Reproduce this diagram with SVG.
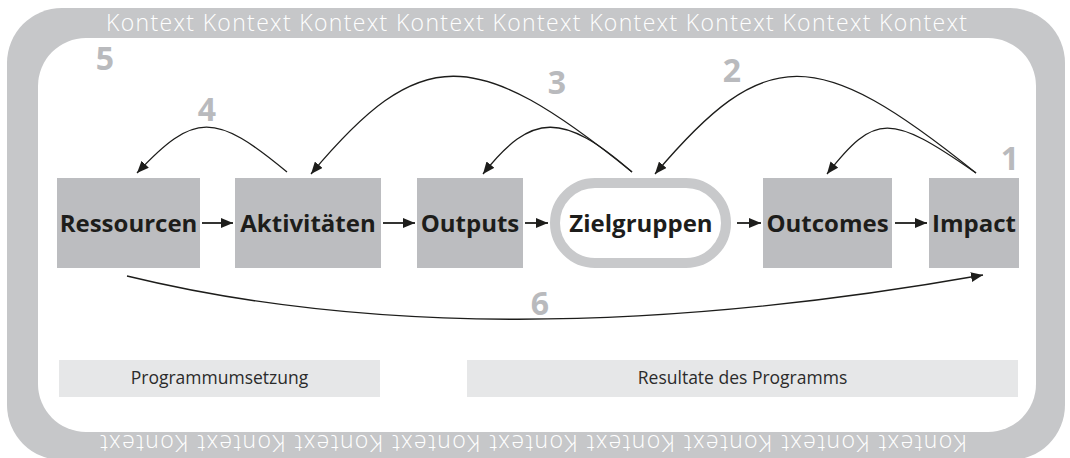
<svg xmlns="http://www.w3.org/2000/svg" width="1070" height="458" viewBox="0 0 1070 458">
<defs>
<style>
.box{fill:#bcbdc0}
.lbl{font-family:"Open Sans","Noto Sans","Liberation Sans",sans-serif;font-weight:700;font-size:24px;fill:#1d1d1b;text-anchor:middle}
.num{font-family:"Open Sans","Noto Sans","Liberation Sans",sans-serif;font-weight:700;font-size:32px;fill:#b9babd;text-anchor:middle}
.ctx{font-family:"Open Sans","Noto Sans","Liberation Sans",sans-serif;font-weight:300;font-size:23px;fill:#ffffff;text-anchor:middle}
.bar{fill:#e6e7e8}
.bartxt{font-family:"Open Sans","Noto Sans","Liberation Sans",sans-serif;font-weight:400;font-size:17.5px;fill:#2b2b2b;text-anchor:middle}
.arc{fill:none;stroke:#1d1d1b;stroke-width:1.3}
.hl{fill:none;stroke:#1d1d1b;stroke-width:1.8}
</style>
<marker id="ah" viewBox="0 0 12 10" refX="12" refY="5" markerWidth="12" markerHeight="10" orient="auto" markerUnits="userSpaceOnUse">
<path d="M0,0 L12,5 L0,10 z" fill="#1d1d1b"/>
</marker>
</defs>

<g id="frame">
<rect x="7" y="8" width="1058" height="452" rx="55" fill="#c6c7c9"/>
<rect x="38" y="38" width="998" height="394" rx="48" fill="#ffffff"/>
<text class="ctx" x="536.5" y="31" textLength="861" lengthAdjust="spacing">Kontext Kontext Kontext Kontext Kontext Kontext Kontext Kontext Kontext</text>
<text class="ctx" x="0" y="0" transform="translate(533.5,435) rotate(180)" textLength="867" lengthAdjust="spacing">Kontext Kontext Kontext Kontext Kontext Kontext Kontext Kontext Kontext</text>
</g>

<g id="numbers">
<text class="num" x="105" y="70">5</text>
<text class="num" x="207" y="121">4</text>
<text class="num" x="557" y="94">3</text>
<text class="num" x="732" y="82">2</text>
<text class="num" x="1010" y="170">1</text>
<text class="num" x="540" y="315">6</text>
</g>

<g id="node-ressourcen">
<rect class="box" x="57" y="178" width="143" height="90"/>
<text class="lbl" x="128.5" y="232">Ressourcen</text>
</g>
<g id="node-aktivitaeten">
<rect class="box" x="235" y="178" width="146" height="90"/>
<text class="lbl" x="308" y="232">Aktivitäten</text>
</g>
<g id="node-outputs">
<rect class="box" x="417" y="178" width="106" height="90"/>
<text class="lbl" x="470" y="232">Outputs</text>
</g>
<g id="node-zielgruppen">
<rect x="555" y="183" width="171" height="80" rx="40" fill="#ffffff" stroke="#c8c9cb" stroke-width="10"/>
<text class="lbl" x="641" y="232">Zielgruppen</text>
</g>
<g id="node-outcomes">
<rect class="box" x="763" y="178" width="129" height="90"/>
<text class="lbl" x="827.5" y="232">Outcomes</text>
</g>
<g id="node-impact">
<rect class="box" x="929" y="178" width="90" height="90"/>
<text class="lbl" x="974" y="232">Impact</text>
</g>

<g id="connectors">
<line class="hl" x1="202" y1="223" x2="233" y2="223" marker-end="url(#ah)"/>
<line class="hl" x1="383" y1="223" x2="415" y2="223" marker-end="url(#ah)"/>
<line class="hl" x1="525" y1="223" x2="548" y2="223" marker-end="url(#ah)"/>
<line class="hl" x1="737" y1="223" x2="761" y2="223" marker-end="url(#ah)"/>
<line class="hl" x1="895" y1="223" x2="927" y2="223" marker-end="url(#ah)"/>
<path class="arc" d="M287,172 C215,112 194,112 137,173" marker-end="url(#ah)"/>
<path class="arc" d="M632,172 C474,44 420,44 311,174" marker-end="url(#ah)"/>
<path class="arc" d="M632,172 C563,112 532,112 483,174" marker-end="url(#ah)"/>
<path class="arc" d="M976,173 C816,44 765,44 655,174" marker-end="url(#ah)"/>
<path class="arc" d="M976,173 C890,113 875,113 827,174" marker-end="url(#ah)"/>
<path class="arc" d="M127,276 Q485,363 983,275" marker-end="url(#ah)"/>
</g>

<g id="bars">
<rect class="bar" x="59" y="360" width="321" height="37"/>
<text class="bartxt" x="219.5" y="384">Programmumsetzung</text>
<rect class="bar" x="467" y="360" width="551" height="37"/>
<text class="bartxt" x="742.5" y="384">Resultate des Programms</text>
</g>
</svg>
